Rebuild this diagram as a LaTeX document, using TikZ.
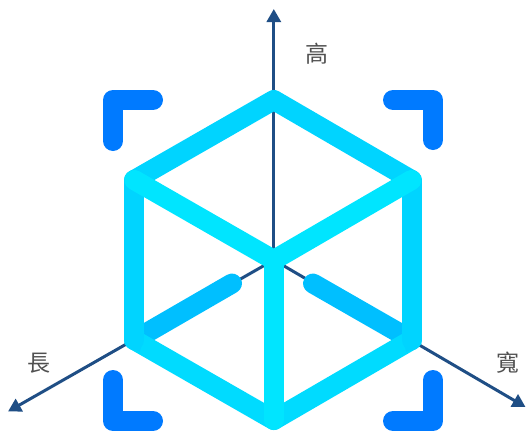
\documentclass[tikz,border=0pt]{standalone}
\usepackage{fontspec}
\newfontfamily\cjk{Noto Sans CJK TC}
\usetikzlibrary{arrows.meta}
\definecolor{axisblue}{HTML}{1F4E85}
\definecolor{bracketblue}{HTML}{007AFF}
\definecolor{topcyan}{HTML}{00D4FF}
\definecolor{ycyan}{HTML}{00E5FF}
\definecolor{lowcyan}{HTML}{00DBFF}
\definecolor{stubcyan}{HTML}{00BFFF}
\definecolor{labelgray}{HTML}{505050}
\tikzset{
  axisline/.style={draw=axisblue,line width=3pt,-{Triangle[length=13pt,width=14pt]}},
  edge/.style={line width=20pt,line cap=round,line join=round},
  bracket/.style={draw=bracketblue,line width=20pt,line cap=round,line join=round},
  axislabel/.style={font=\cjk\fontsize{23pt}{23pt}\selectfont,text=labelgray,inner sep=0pt}
}
\begin{document}
\begin{tikzpicture}[x=1pt,y=-1pt]
\useasboundingbox (0,0) rectangle (526,431);
\coordinate (T) at (273.8,100);
\coordinate (UL) at (134.3,180);
\coordinate (UR) at (411.5,180);
\coordinate (C) at (273.8,260);
\coordinate (LL) at (134.3,340);
\coordinate (LR) at (411.5,340);
\coordinate (B) at (273.8,420);
\coordinate (SL) at (232,283.5);
\coordinate (SR) at (313,283.5);
\coordinate (AT) at (273.8,9);
\coordinate (AL) at (8,411.5);
\coordinate (AR) at (525.5,407);
% axes
\draw[axisline] (C) -- (AT);
\draw[axisline] (C) -- (AL);
\draw[axisline] (C) -- (AR);
% hidden edges
\draw[edge,draw=stubcyan] (LL) -- (SL);
\draw[edge,draw=stubcyan] (LR) -- (SR);
% outer edges
\draw[edge,draw=lowcyan] (LL) -- (B) -- (LR);
\draw[edge,draw=topcyan] (UL) -- (LL);
\draw[edge,draw=topcyan] (UR) -- (LR);
\draw[edge,draw=topcyan] (UL) -- (T) -- (UR);
% sharp lower corners
\fill[topcyan] (124.5,332) -- (124.5,344.5) -- (140,352) -- (144.3,332) -- cycle;
\fill[topcyan] (421.3,332) -- (421.3,344.5) -- (406,352) -- (401.7,332) -- cycle;
% front edges
\draw[edge,draw=ycyan] (UL) -- (C) -- (UR);
\draw[edge,draw=ycyan] (C) -- (B);
% brackets
\draw[bracket] (113,141) -- (113,100) -- (153,100);
\draw[bracket] (393,100) -- (433,100) -- (433,140);
\draw[bracket] (113,380) -- (113,421) -- (153,421);
\draw[bracket] (393,421) -- (433,421) -- (433,380);
% labels
\node[axislabel] (lh) at (317,53.5) {高};
\node[axislabel] (ll) at (39,363) {長};
\node[axislabel] (lw) at (508,363) {寬};
\end{tikzpicture}
\end{document}
